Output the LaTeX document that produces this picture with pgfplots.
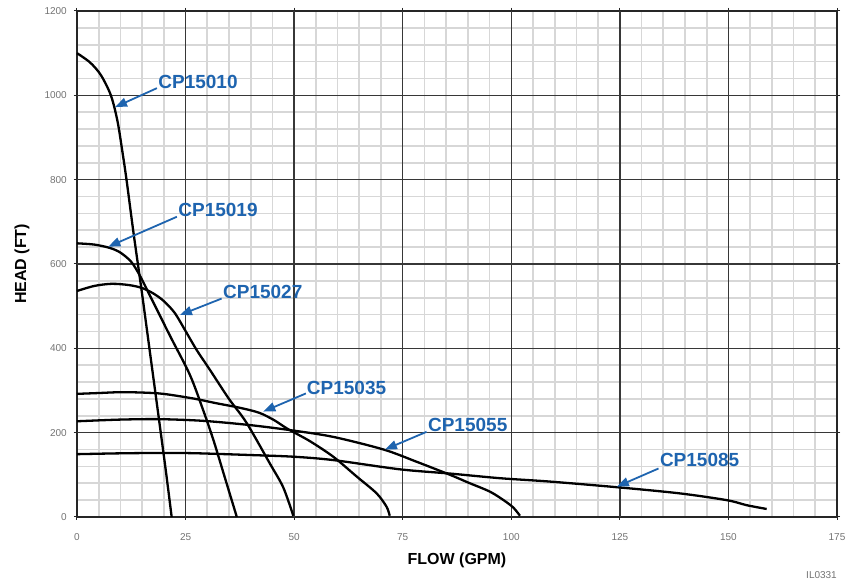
\documentclass[border=0pt]{standalone}
\usepackage{fontspec}
\setmainfont{Liberation Sans}
\usepackage{pgfplots}
\pgfplotsset{compat=1.18}
\usetikzlibrary{arrows.meta}
\definecolor{cpblue}{RGB}{30,100,175}
\definecolor{majgrid}{RGB}{55,55,55}
\definecolor{mingrid}{RGB}{215,215,215}

\begin{document}
\begin{tikzpicture}[curve/.style={black, line width=2.3pt, smooth, tension=0.5, mark=none}]
\useasboundingbox (-77pt,-71pt) rectangle (774pt,517pt);
\begin{axis}[
    at={(0pt,0pt)}, anchor=south west,
    scale only axis,
    width=760pt, height=506pt,
    xmin=0, xmax=175, ymin=0, ymax=1200,
    xtick={0,25,...,175},
    ytick={0,200,...,1200},
    minor x tick num=4,
    minor y tick num=4,
    grid=minor,
    minor grid style={mingrid, line width=1.7pt},
    % major grid drawn as extra ticks so that it lies over the minor grid
    extra x ticks={25,50,...,150},
    extra y ticks={200,400,...,1000},
    extra x tick labels={},
    extra y tick labels={},
    extra tick style={grid=major, major grid style={majgrid, line width=1.5pt}},
    axis line style={black!85, line width=1.6pt},
    tick align=outside,
    major tick length=3pt,
    minor tick length=0pt,
    tick style={black!85, line width=1pt},
    /pgf/number format/assume math mode=true,
    /pgf/number format/1000 sep={},
    ticklabel style={font=\fontsize{10}{12}\selectfont, text=black!55},
    xticklabel style={anchor=center, inner sep=0pt, yshift=-17pt},
    yticklabel style={anchor=east, inner sep=0pt, xshift=-7pt},
    xlabel={FLOW (GPM)},
    ylabel={HEAD (FT)},
    label style={font=\bfseries\fontsize{16}{18}\selectfont},
    xlabel style={at={(rel axis cs:0.5,0)}, anchor=center, yshift=-43pt},
    ylabel style={at={(rel axis cs:0,0.5)}, anchor=center, yshift=55pt},
    clip=false,
]
% CP15010
\addplot[curve] coordinates {(0,1100) (3,1078) (5.5,1048) (7.8,1000) (9.3,940) (10.4,870) (11.4,800)
    (13,675) (15,528) (17,375) (19,222) (20.5,106) (21.8,0)};
% CP15019
\addplot[curve] coordinates {(0,649) (4,646) (7.6,638) (10,627) (12.5,605) (14.5,572) (16.8,525)
    (21.4,430) (26,337) (29.1,252) (31.4,183) (34,95) (36.8,0)};
% CP15027
\addplot[curve] coordinates {(0,536) (4,548) (8,553) (12,550) (15,543) (17.6,530) (20,512)
    (22.5,484) (25,441) (27.5,397) (30.6,349) (35,280) (39,224) (44.4,127) (47.5,70) (49.8,3)};
% CP15035
\addplot[curve] coordinates {(0,292) (5,294) (10,296) (15.3,295) (19.9,292) (26.8,281) (32,270)
    (37.5,259) (42,247) (45.5,229) (48.5,209) (53.6,180) (59,143) (64.4,96) (69,56)
    (71.3,24) (72,3)};
% CP15055
\addplot[curve] coordinates {(0,227) (10,231) (19.1,232) (29.1,228) (39.8,218) (49.8,205) (59,190)
    (70.6,160) (78.2,131) (85.9,100) (90,82) (95.1,60) (98.5,38) (100.5,22) (102,3)};
% CP15085
\addplot[curve] coordinates {(0,149) (10,151) (20.6,152) (28,151) (39.8,147) (49.8,143) (59,135)
    (74.4,113) (85.9,103) (97.4,92) (108.9,84) (125,70) (138.8,56) (149.6,40)
    (154.2,28) (158.8,19)};

\begin{scope}[cpblue, line width=1.8pt, -{Triangle[length=12pt,width=9pt]}]
\draw (axis cs:18.4,1017) -- (axis cs:8.75,972);
\draw (axis cs:23,712) -- (axis cs:7.2,641);
\draw (axis cs:33.3,518) -- (axis cs:23.7,479);
\draw (axis cs:52.7,293) -- (axis cs:42.9,250);
\draw (axis cs:80.5,202) -- (axis cs:70.9,160);
\draw (axis cs:133.9,115) -- (axis cs:124.3,72);
\end{scope}
\begin{scope}[every node/.style={anchor=west, inner sep=0pt, text=cpblue,
    font=\bfseries\fontsize{19}{21}\selectfont}]
\node at (axis cs:18.7,1031) {CP15010};
\node at (axis cs:23.3,728) {CP15019};
\node at (axis cs:33.6,534) {CP15027};
\node at (axis cs:52.9,305) {CP15035};
\node at (axis cs:80.8,218) {CP15055};
\node at (axis cs:134.2,135) {CP15085};
\end{scope}
\node[anchor=east, inner sep=0pt, text=black!55, font=\fontsize{10}{12}\selectfont]
    at ([yshift=-58pt]rel axis cs:1,0) {IL0331};
\end{axis}
\end{tikzpicture}
\end{document}
